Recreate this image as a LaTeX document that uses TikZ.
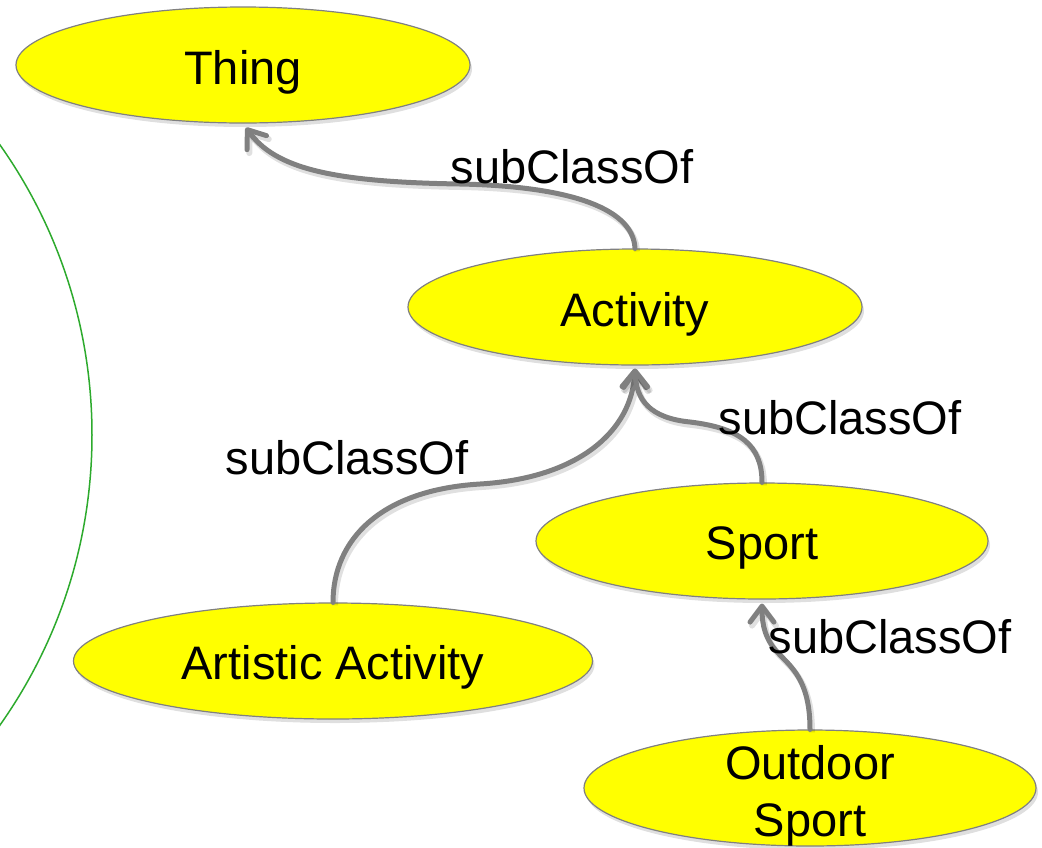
\documentclass[tikz,border=0pt]{standalone}
\usepackage{fontspec}
\setmainfont{Liberation Sans}
\usetikzlibrary{shapes.geometric,arrows.meta,shadows}
\definecolor{linegray}{RGB}{128,128,128}
\definecolor{classfill}{RGB}{255,255,0}
\definecolor{scopegreen}{RGB}{45,170,45}
\begin{document}
\begin{tikzpicture}[x=1pt,y=-1pt,
  classshape/.style={ellipse, draw=linegray, line width=1.2pt, fill=classfill,
    inner sep=0pt, minimum height=116pt,
    drop shadow={shadow xshift=2pt, shadow yshift=-4pt, opacity=0.25}},
  classname/.style={font=\fontsize{47}{57}\selectfont, align=center, inner sep=0pt},
  subarrow/.style={draw=linegray, line width=5pt, line cap=round,
    -{Straight Barb[length=16pt,width=24pt,round]},
    preaction={draw=black, opacity=0.12, line width=6pt,
      transform canvas={xshift=2pt,yshift=-3pt}}},
  rellabel/.style={font=\fontsize{47}{57}\selectfont, inner sep=0pt}]
\useasboundingbox (0,0) rectangle (1042,847);
\begin{scope}
  \clip (0,0) rectangle (1042,847);
  % enclosing scope boundary on the left
  \draw[scopegreen, line width=1.5pt] (-411,435) circle[radius=503pt];

  % classes: the ellipse, then its name set a little below the centre
  \node[classshape, minimum width=454pt] (thing) at (243,65) {};
  \node[classname] (thingname) at (243,72) {Thing};
  \node[classshape, minimum width=454pt] (act) at (635,307) {};
  \node[classname] (actname) at (635,314) {Activity};
  \node[classshape, minimum width=452pt] (sport) at (762,541) {};
  \node[classname] (sportname) at (762,548) {Sport};
  \node[classshape, minimum width=519pt] (art) at (333,661) {};
  \node[classname] (artname) at (333,667) {Artistic Activity};
  \node[classshape, minimum width=452pt] (out) at (810,788) {};
  \node[classname] (outname) at (810,796) {Outdoor\\Sport};

  % subClassOf relations
  \draw[subarrow, shorten >=5pt] (act.north)
    .. controls (633,205) and (560,186) .. (460,184)
    .. controls (330,182) and (275,168) .. (thing.south);
  \draw[subarrow, shorten >=3pt] (art.north)
    .. controls (333,540) and (380,490) .. (480,484)
    .. controls (580,478) and (632,430) .. (act.south);
  \draw[subarrow, shorten >=3pt] (sport.north)
    .. controls (762,445) and (740,428) .. (690,422)
    .. controls (650,418) and (636,400) .. (act.south);
  \draw[subarrow, shorten >=4pt] (out.north)
    .. controls (810,685) and (795,670) .. (780,655)
    .. controls (765,640) and (762,625) .. (sport.south);

  % relation labels
  \node[rellabel] (l1) at (572,167) {subClassOf};
  \node[rellabel] (l2) at (347,458) {subClassOf};
  \node[rellabel] (l3) at (840,418) {subClassOf};
  \node[rellabel] (l4) at (890,637) {subClassOf};
\end{scope}
\end{tikzpicture}
\end{document}
